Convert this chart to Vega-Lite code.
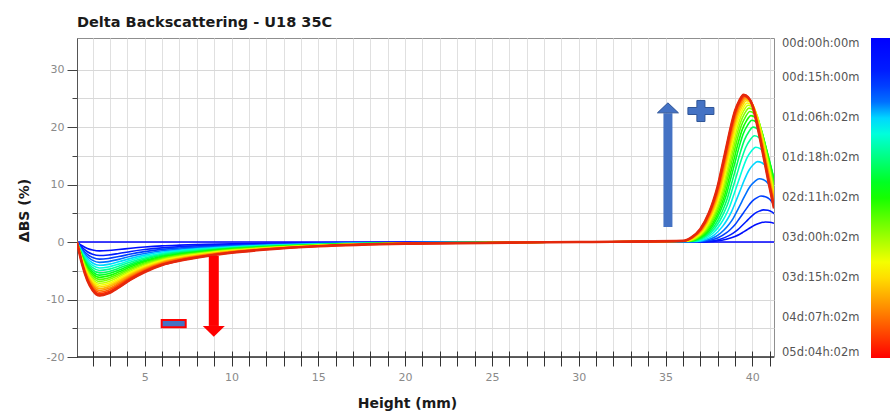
{
"$schema":"https://vega.github.io/schema/vega-lite/v6.json",
"width":697,"height":319,
"autosize":{"type":"none"},
"padding":{"left":77,"top":38,"right":116,"bottom":54},
"background":"white",
"title":{"text":"Delta Backscattering - U18 35C","anchor":"start","frame":"group","fontSize":14.5,"fontWeight":"bold","font":"DejaVu Sans","color":"#1a1a1a","offset":8},
"config":{"view":{"stroke":"#8f8f8f","strokeWidth":1},"font":"DejaVu Sans"},
"datasets":{"curves":[
{"k":0,"h":1.1,"v":0},{"k":0,"h":41.25,"v":0},
{"k":1,"h":1.1,"v":0},{"k":1,"h":1.4,"v":-0.65},{"k":1,"h":1.7,"v":-1.11},{"k":1,"h":2,"v":-1.39},{"k":1,"h":2.4,"v":-1.54},{"k":1,"h":2.9,"v":-1.48},{"k":1,"h":3.5,"v":-1.31},{"k":1,"h":4.2,"v":-1.08},{"k":1,"h":5,"v":-0.86},{"k":1,"h":6,"v":-0.66},{"k":1,"h":7,"v":-0.54},{"k":1,"h":8.5,"v":-0.41},{"k":1,"h":10,"v":-0.31},{"k":1,"h":12,"v":-0.22},{"k":1,"h":15,"v":-0.12},{"k":1,"h":20,"v":-0.05},{"k":1,"h":30,"v":0},
{"k":1,"h":37.25,"v":0.03},{"k":1,"h":37.75,"v":0.11},{"k":1,"h":38.25,"v":0.3},{"k":1,"h":38.75,"v":0.69},{"k":1,"h":39,"v":0.97},{"k":1,"h":39.25,"v":1.31},{"k":1,"h":39.5,"v":1.77},{"k":1,"h":39.75,"v":2.24},{"k":1,"h":40,"v":2.71},{"k":1,"h":40.25,"v":3.11},{"k":1,"h":40.5,"v":3.36},{"k":1,"h":40.75,"v":3.5},{"k":1,"h":41,"v":3.45},{"k":1,"h":41.25,"v":3.26},
{"k":2,"h":1.1,"v":0},{"k":2,"h":1.4,"v":-0.98},{"k":2,"h":1.7,"v":-1.68},{"k":2,"h":2,"v":-2.11},{"k":2,"h":2.4,"v":-2.34},{"k":2,"h":2.9,"v":-2.25},{"k":2,"h":3.5,"v":-1.99},{"k":2,"h":4.2,"v":-1.64},{"k":2,"h":5,"v":-1.31},{"k":2,"h":6,"v":-1.01},{"k":2,"h":7,"v":-0.82},{"k":2,"h":8.5,"v":-0.62},{"k":2,"h":10,"v":-0.47},{"k":2,"h":12,"v":-0.33},{"k":2,"h":15,"v":-0.19},{"k":2,"h":20,"v":-0.07},{"k":2,"h":30,"v":0},
{"k":2,"h":37.15,"v":0.04},{"k":2,"h":37.65,"v":0.18},{"k":2,"h":38.15,"v":0.49},{"k":2,"h":38.65,"v":1.11},{"k":2,"h":38.9,"v":1.55},{"k":2,"h":39.15,"v":2.1},{"k":2,"h":39.4,"v":2.83},{"k":2,"h":39.65,"v":3.58},{"k":2,"h":39.9,"v":4.34},{"k":2,"h":40.15,"v":4.98},{"k":2,"h":40.4,"v":5.38},{"k":2,"h":40.65,"v":5.6},{"k":2,"h":40.9,"v":5.52},{"k":2,"h":41.15,"v":5.21},{"k":2,"h":41.4,"v":4.54},
{"k":3,"h":1.1,"v":0},{"k":3,"h":1.4,"v":-1.25},{"k":3,"h":1.7,"v":-2.15},{"k":3,"h":2,"v":-2.68},{"k":3,"h":2.4,"v":-2.98},{"k":3,"h":2.9,"v":-2.86},{"k":3,"h":3.5,"v":-2.53},{"k":3,"h":4.2,"v":-2.09},{"k":3,"h":5,"v":-1.67},{"k":3,"h":6,"v":-1.28},{"k":3,"h":7,"v":-1.04},{"k":3,"h":8.5,"v":-0.79},{"k":3,"h":10,"v":-0.6},{"k":3,"h":12,"v":-0.42},{"k":3,"h":15,"v":-0.24},{"k":3,"h":20,"v":-0.09},{"k":3,"h":30,"v":0},
{"k":3,"h":37,"v":0.06},{"k":3,"h":37.5,"v":0.26},{"k":3,"h":38,"v":0.7},{"k":3,"h":38.5,"v":1.58},{"k":3,"h":38.75,"v":2.22},{"k":3,"h":39,"v":3},{"k":3,"h":39.25,"v":4.05},{"k":3,"h":39.5,"v":5.12},{"k":3,"h":39.75,"v":6.2},{"k":3,"h":40,"v":7.11},{"k":3,"h":40.25,"v":7.68},{"k":3,"h":40.5,"v":8},{"k":3,"h":40.75,"v":7.88},{"k":3,"h":41,"v":7.44},{"k":3,"h":41.25,"v":6.48},
{"k":4,"h":1.1,"v":0},{"k":4,"h":1.4,"v":-1.49},{"k":4,"h":1.7,"v":-2.55},{"k":4,"h":2,"v":-3.19},{"k":4,"h":2.4,"v":-3.54},{"k":4,"h":2.9,"v":-3.4},{"k":4,"h":3.5,"v":-3.01},{"k":4,"h":4.2,"v":-2.48},{"k":4,"h":5,"v":-1.98},{"k":4,"h":6,"v":-1.52},{"k":4,"h":7,"v":-1.24},{"k":4,"h":8.5,"v":-0.94},{"k":4,"h":10,"v":-0.71},{"k":4,"h":12,"v":-0.5},{"k":4,"h":15,"v":-0.28},{"k":4,"h":20,"v":-0.11},{"k":4,"h":30,"v":0},
{"k":4,"h":36.9,"v":0.09},{"k":4,"h":37.4,"v":0.35},{"k":4,"h":37.9,"v":0.96},{"k":4,"h":38.4,"v":2.18},{"k":4,"h":38.65,"v":3.05},{"k":4,"h":38.9,"v":4.13},{"k":4,"h":39.15,"v":5.57},{"k":4,"h":39.4,"v":7.04},{"k":4,"h":39.65,"v":8.53},{"k":4,"h":39.9,"v":9.78},{"k":4,"h":40.15,"v":10.56},{"k":4,"h":40.4,"v":11},{"k":4,"h":40.65,"v":10.84},{"k":4,"h":40.9,"v":10.23},{"k":4,"h":41.15,"v":8.91},{"k":4,"h":41.4,"v":7.37},
{"k":5,"h":1.1,"v":0},{"k":5,"h":1.4,"v":-1.7},{"k":5,"h":1.7,"v":-2.92},{"k":5,"h":2,"v":-3.65},{"k":5,"h":2.4,"v":-4.05},{"k":5,"h":2.9,"v":-3.89},{"k":5,"h":3.5,"v":-3.44},{"k":5,"h":4.2,"v":-2.84},{"k":5,"h":5,"v":-2.27},{"k":5,"h":6,"v":-1.74},{"k":5,"h":7,"v":-1.42},{"k":5,"h":8.5,"v":-1.07},{"k":5,"h":10,"v":-0.81},{"k":5,"h":12,"v":-0.57},{"k":5,"h":15,"v":-0.32},{"k":5,"h":20,"v":-0.12},{"k":5,"h":30,"v":0},
{"k":5,"h":36.8,"v":0.11},{"k":5,"h":37.3,"v":0.45},{"k":5,"h":37.8,"v":1.22},{"k":5,"h":38.3,"v":2.77},{"k":5,"h":38.55,"v":3.88},{"k":5,"h":38.8,"v":5.25},{"k":5,"h":39.05,"v":7.08},{"k":5,"h":39.3,"v":8.96},{"k":5,"h":39.55,"v":10.85},{"k":5,"h":39.8,"v":12.45},{"k":5,"h":40.05,"v":13.44},{"k":5,"h":40.3,"v":14},{"k":5,"h":40.55,"v":13.79},{"k":5,"h":40.8,"v":13.02},{"k":5,"h":41.05,"v":11.34},{"k":5,"h":41.3,"v":9.38},
{"k":6,"h":1.1,"v":0},{"k":6,"h":1.4,"v":-1.9},{"k":6,"h":1.7,"v":-3.25},{"k":6,"h":2,"v":-4.07},{"k":6,"h":2.4,"v":-4.52},{"k":6,"h":2.9,"v":-4.34},{"k":6,"h":3.5,"v":-3.84},{"k":6,"h":4.2,"v":-3.16},{"k":6,"h":5,"v":-2.53},{"k":6,"h":6,"v":-1.94},{"k":6,"h":7,"v":-1.58},{"k":6,"h":8.5,"v":-1.2},{"k":6,"h":10,"v":-0.9},{"k":6,"h":12,"v":-0.63},{"k":6,"h":15,"v":-0.36},{"k":6,"h":20,"v":-0.14},{"k":6,"h":30,"v":0},
{"k":6,"h":36.7,"v":0.13},{"k":6,"h":37.2,"v":0.53},{"k":6,"h":37.7,"v":1.44},{"k":6,"h":38.2,"v":3.27},{"k":6,"h":38.45,"v":4.57},{"k":6,"h":38.7,"v":6.19},{"k":6,"h":38.95,"v":8.35},{"k":6,"h":39.2,"v":10.56},{"k":6,"h":39.45,"v":12.79},{"k":6,"h":39.7,"v":14.67},{"k":6,"h":39.95,"v":15.84},{"k":6,"h":40.2,"v":16.5},{"k":6,"h":40.45,"v":16.25},{"k":6,"h":40.7,"v":15.35},{"k":6,"h":40.95,"v":13.37},{"k":6,"h":41.2,"v":11.06},{"k":6,"h":41.45,"v":8.58},
{"k":7,"h":1.1,"v":0},{"k":7,"h":1.4,"v":-2.08},{"k":7,"h":1.7,"v":-3.56},{"k":7,"h":2,"v":-4.46},{"k":7,"h":2.4,"v":-4.95},{"k":7,"h":2.9,"v":-4.75},{"k":7,"h":3.5,"v":-4.21},{"k":7,"h":4.2,"v":-3.47},{"k":7,"h":5,"v":-2.77},{"k":7,"h":6,"v":-2.13},{"k":7,"h":7,"v":-1.73},{"k":7,"h":8.5,"v":-1.31},{"k":7,"h":10,"v":-0.99},{"k":7,"h":12,"v":-0.69},{"k":7,"h":15,"v":-0.4},{"k":7,"h":20,"v":-0.15},{"k":7,"h":30,"v":0},
{"k":7,"h":36.62,"v":0.15},{"k":7,"h":37.12,"v":0.59},{"k":7,"h":37.62,"v":1.61},{"k":7,"h":38.12,"v":3.66},{"k":7,"h":38.37,"v":5.12},{"k":7,"h":38.62,"v":6.94},{"k":7,"h":38.87,"v":9.36},{"k":7,"h":39.12,"v":11.84},{"k":7,"h":39.37,"v":14.34},{"k":7,"h":39.62,"v":16.45},{"k":7,"h":39.87,"v":17.76},{"k":7,"h":40.12,"v":18.5},{"k":7,"h":40.37,"v":18.22},{"k":7,"h":40.62,"v":17.21},{"k":7,"h":40.87,"v":14.99},{"k":7,"h":41.12,"v":12.4},{"k":7,"h":41.37,"v":9.62},
{"k":8,"h":1.1,"v":0},{"k":8,"h":1.4,"v":-2.26},{"k":8,"h":1.7,"v":-3.87},{"k":8,"h":2,"v":-4.83},{"k":8,"h":2.4,"v":-5.37},{"k":8,"h":2.9,"v":-5.16},{"k":8,"h":3.5,"v":-4.56},{"k":8,"h":4.2,"v":-3.76},{"k":8,"h":5,"v":-3.01},{"k":8,"h":6,"v":-2.31},{"k":8,"h":7,"v":-1.88},{"k":8,"h":8.5,"v":-1.42},{"k":8,"h":10,"v":-1.07},{"k":8,"h":12,"v":-0.75},{"k":8,"h":15,"v":-0.43},{"k":8,"h":20,"v":-0.16},{"k":8,"h":30,"v":0},
{"k":8,"h":36.55,"v":0.16},{"k":8,"h":37.05,"v":0.64},{"k":8,"h":37.55,"v":1.74},{"k":8,"h":38.05,"v":3.96},{"k":8,"h":38.3,"v":5.54},{"k":8,"h":38.55,"v":7.5},{"k":8,"h":38.8,"v":10.12},{"k":8,"h":39.05,"v":12.8},{"k":8,"h":39.3,"v":15.5},{"k":8,"h":39.55,"v":17.78},{"k":8,"h":39.8,"v":19.2},{"k":8,"h":40.05,"v":20},{"k":8,"h":40.3,"v":19.7},{"k":8,"h":40.55,"v":18.6},{"k":8,"h":40.8,"v":16.2},{"k":8,"h":41.05,"v":13.4},{"k":8,"h":41.3,"v":10.4},
{"k":9,"h":1.1,"v":0},{"k":9,"h":1.4,"v":-2.42},{"k":9,"h":1.7,"v":-4.15},{"k":9,"h":2,"v":-5.18},{"k":9,"h":2.4,"v":-5.76},{"k":9,"h":2.9,"v":-5.53},{"k":9,"h":3.5,"v":-4.9},{"k":9,"h":4.2,"v":-4.03},{"k":9,"h":5,"v":-3.23},{"k":9,"h":6,"v":-2.48},{"k":9,"h":7,"v":-2.02},{"k":9,"h":8.5,"v":-1.53},{"k":9,"h":10,"v":-1.15},{"k":9,"h":12,"v":-0.81},{"k":9,"h":15,"v":-0.46},{"k":9,"h":20,"v":-0.17},{"k":9,"h":30,"v":0},
{"k":9,"h":36.48,"v":0.17},{"k":9,"h":36.98,"v":0.68},{"k":9,"h":37.48,"v":1.84},{"k":9,"h":37.98,"v":4.2},{"k":9,"h":38.23,"v":5.87},{"k":9,"h":38.48,"v":7.95},{"k":9,"h":38.73,"v":10.73},{"k":9,"h":38.98,"v":13.57},{"k":9,"h":39.23,"v":16.43},{"k":9,"h":39.48,"v":18.85},{"k":9,"h":39.73,"v":20.35},{"k":9,"h":39.98,"v":21.2},{"k":9,"h":40.23,"v":20.88},{"k":9,"h":40.48,"v":19.72},{"k":9,"h":40.73,"v":17.17},{"k":9,"h":40.98,"v":14.2},{"k":9,"h":41.23,"v":11.02},{"k":9,"h":41.48,"v":7.84},
{"k":10,"h":1.1,"v":0},{"k":10,"h":1.4,"v":-2.58},{"k":10,"h":1.7,"v":-4.42},{"k":10,"h":2,"v":-5.53},{"k":10,"h":2.4,"v":-6.14},{"k":10,"h":2.9,"v":-5.89},{"k":10,"h":3.5,"v":-5.22},{"k":10,"h":4.2,"v":-4.3},{"k":10,"h":5,"v":-3.44},{"k":10,"h":6,"v":-2.64},{"k":10,"h":7,"v":-2.15},{"k":10,"h":8.5,"v":-1.63},{"k":10,"h":10,"v":-1.23},{"k":10,"h":12,"v":-0.86},{"k":10,"h":15,"v":-0.49},{"k":10,"h":20,"v":-0.18},{"k":10,"h":30,"v":0},
{"k":10,"h":36.42,"v":0.18},{"k":10,"h":36.92,"v":0.7},{"k":10,"h":37.42,"v":1.91},{"k":10,"h":37.92,"v":4.36},{"k":10,"h":38.17,"v":6.09},{"k":10,"h":38.42,"v":8.25},{"k":10,"h":38.67,"v":11.13},{"k":10,"h":38.92,"v":14.08},{"k":10,"h":39.17,"v":17.05},{"k":10,"h":39.42,"v":19.56},{"k":10,"h":39.67,"v":21.12},{"k":10,"h":39.92,"v":22},{"k":10,"h":40.17,"v":21.67},{"k":10,"h":40.42,"v":20.46},{"k":10,"h":40.67,"v":17.82},{"k":10,"h":40.92,"v":14.74},{"k":10,"h":41.17,"v":11.44},{"k":10,"h":41.42,"v":8.14},
{"k":11,"h":1.1,"v":0},{"k":11,"h":1.4,"v":-2.73},{"k":11,"h":1.7,"v":-4.68},{"k":11,"h":2,"v":-5.85},{"k":11,"h":2.4,"v":-6.5},{"k":11,"h":2.9,"v":-6.24},{"k":11,"h":3.5,"v":-5.53},{"k":11,"h":4.2,"v":-4.55},{"k":11,"h":5,"v":-3.64},{"k":11,"h":6,"v":-2.8},{"k":11,"h":7,"v":-2.28},{"k":11,"h":8.5,"v":-1.72},{"k":11,"h":10,"v":-1.3},{"k":11,"h":12,"v":-0.91},{"k":11,"h":15,"v":-0.52},{"k":11,"h":20,"v":-0.2},{"k":11,"h":30,"v":0},
{"k":11,"h":36.36,"v":0.18},{"k":11,"h":36.86,"v":0.73},{"k":11,"h":37.36,"v":1.97},{"k":11,"h":37.86,"v":4.49},{"k":11,"h":38.11,"v":6.29},{"k":11,"h":38.36,"v":8.51},{"k":11,"h":38.61,"v":11.49},{"k":11,"h":38.86,"v":14.53},{"k":11,"h":39.11,"v":17.59},{"k":11,"h":39.36,"v":20.18},{"k":11,"h":39.61,"v":21.79},{"k":11,"h":39.86,"v":22.7},{"k":11,"h":40.11,"v":22.36},{"k":11,"h":40.36,"v":21.11},{"k":11,"h":40.61,"v":18.39},{"k":11,"h":40.86,"v":15.21},{"k":11,"h":41.11,"v":11.8},{"k":11,"h":41.36,"v":8.4},
{"k":12,"h":1.1,"v":0},{"k":12,"h":1.4,"v":-2.87},{"k":12,"h":1.7,"v":-4.92},{"k":12,"h":2,"v":-6.16},{"k":12,"h":2.4,"v":-6.84},{"k":12,"h":2.9,"v":-6.57},{"k":12,"h":3.5,"v":-5.81},{"k":12,"h":4.2,"v":-4.79},{"k":12,"h":5,"v":-3.83},{"k":12,"h":6,"v":-2.94},{"k":12,"h":7,"v":-2.39},{"k":12,"h":8.5,"v":-1.81},{"k":12,"h":10,"v":-1.37},{"k":12,"h":12,"v":-0.96},{"k":12,"h":15,"v":-0.55},{"k":12,"h":20,"v":-0.21},{"k":12,"h":30,"v":0},
{"k":12,"h":36.31,"v":0.19},{"k":12,"h":36.81,"v":0.75},{"k":12,"h":37.31,"v":2.03},{"k":12,"h":37.81,"v":4.61},{"k":12,"h":38.06,"v":6.45},{"k":12,"h":38.31,"v":8.74},{"k":12,"h":38.56,"v":11.79},{"k":12,"h":38.81,"v":14.91},{"k":12,"h":39.06,"v":18.06},{"k":12,"h":39.31,"v":20.71},{"k":12,"h":39.56,"v":22.37},{"k":12,"h":39.81,"v":23.3},{"k":12,"h":40.06,"v":22.95},{"k":12,"h":40.31,"v":21.67},{"k":12,"h":40.56,"v":18.87},{"k":12,"h":40.81,"v":15.61},{"k":12,"h":41.06,"v":12.12},{"k":12,"h":41.31,"v":8.62},
{"k":13,"h":1.1,"v":0},{"k":13,"h":1.4,"v":-3.02},{"k":13,"h":1.7,"v":-5.17},{"k":13,"h":2,"v":-6.46},{"k":13,"h":2.4,"v":-7.18},{"k":13,"h":2.9,"v":-6.89},{"k":13,"h":3.5,"v":-6.1},{"k":13,"h":4.2,"v":-5.03},{"k":13,"h":5,"v":-4.02},{"k":13,"h":6,"v":-3.09},{"k":13,"h":7,"v":-2.51},{"k":13,"h":8.5,"v":-1.9},{"k":13,"h":10,"v":-1.44},{"k":13,"h":12,"v":-1.01},{"k":13,"h":15,"v":-0.57},{"k":13,"h":20,"v":-0.22},{"k":13,"h":30,"v":0},
{"k":13,"h":36.26,"v":0.19},{"k":13,"h":36.76,"v":0.76},{"k":13,"h":37.26,"v":2.07},{"k":13,"h":37.76,"v":4.71},{"k":13,"h":38.01,"v":6.59},{"k":13,"h":38.26,"v":8.93},{"k":13,"h":38.51,"v":12.04},{"k":13,"h":38.76,"v":15.23},{"k":13,"h":39.01,"v":18.45},{"k":13,"h":39.26,"v":21.16},{"k":13,"h":39.51,"v":22.85},{"k":13,"h":39.76,"v":23.8},{"k":13,"h":40.01,"v":23.44},{"k":13,"h":40.26,"v":22.13},{"k":13,"h":40.51,"v":19.28},{"k":13,"h":40.76,"v":15.95},{"k":13,"h":41.01,"v":12.38},{"k":13,"h":41.26,"v":8.81},
{"k":14,"h":1.1,"v":0},{"k":14,"h":1.4,"v":-3.15},{"k":14,"h":1.7,"v":-5.41},{"k":14,"h":2,"v":-6.76},{"k":14,"h":2.4,"v":-7.51},{"k":14,"h":2.9,"v":-7.21},{"k":14,"h":3.5,"v":-6.38},{"k":14,"h":4.2,"v":-5.26},{"k":14,"h":5,"v":-4.21},{"k":14,"h":6,"v":-3.23},{"k":14,"h":7,"v":-2.63},{"k":14,"h":8.5,"v":-1.99},{"k":14,"h":10,"v":-1.5},{"k":14,"h":12,"v":-1.05},{"k":14,"h":15,"v":-0.6},{"k":14,"h":20,"v":-0.23},{"k":14,"h":30,"v":0},
{"k":14,"h":36.21,"v":0.19},{"k":14,"h":36.71,"v":0.77},{"k":14,"h":37.21,"v":2.11},{"k":14,"h":37.71,"v":4.79},{"k":14,"h":37.96,"v":6.7},{"k":14,"h":38.21,"v":9.08},{"k":14,"h":38.46,"v":12.25},{"k":14,"h":38.71,"v":15.49},{"k":14,"h":38.96,"v":18.76},{"k":14,"h":39.21,"v":21.51},{"k":14,"h":39.46,"v":23.23},{"k":14,"h":39.71,"v":24.2},{"k":14,"h":39.96,"v":23.84},{"k":14,"h":40.21,"v":22.51},{"k":14,"h":40.46,"v":19.6},{"k":14,"h":40.71,"v":16.21},{"k":14,"h":40.96,"v":12.58},{"k":14,"h":41.21,"v":8.95},{"k":14,"h":41.46,"v":5.57},
{"k":15,"h":1.1,"v":0},{"k":15,"h":1.4,"v":-3.29},{"k":15,"h":1.7,"v":-5.64},{"k":15,"h":2,"v":-7.05},{"k":15,"h":2.4,"v":-7.83},{"k":15,"h":2.9,"v":-7.52},{"k":15,"h":3.5,"v":-6.66},{"k":15,"h":4.2,"v":-5.48},{"k":15,"h":5,"v":-4.38},{"k":15,"h":6,"v":-3.37},{"k":15,"h":7,"v":-2.74},{"k":15,"h":8.5,"v":-2.07},{"k":15,"h":10,"v":-1.57},{"k":15,"h":12,"v":-1.1},{"k":15,"h":15,"v":-0.63},{"k":15,"h":20,"v":-0.23},{"k":15,"h":30,"v":0},
{"k":15,"h":36.17,"v":0.2},{"k":15,"h":36.67,"v":0.79},{"k":15,"h":37.17,"v":2.14},{"k":15,"h":37.67,"v":4.87},{"k":15,"h":37.92,"v":6.81},{"k":15,"h":38.17,"v":9.23},{"k":15,"h":38.42,"v":12.45},{"k":15,"h":38.67,"v":15.74},{"k":15,"h":38.92,"v":19.07},{"k":15,"h":39.17,"v":21.87},{"k":15,"h":39.42,"v":23.62},{"k":15,"h":39.67,"v":24.6},{"k":15,"h":39.92,"v":24.23},{"k":15,"h":40.17,"v":22.88},{"k":15,"h":40.42,"v":19.93},{"k":15,"h":40.67,"v":16.48},{"k":15,"h":40.92,"v":12.79},{"k":15,"h":41.17,"v":9.1},{"k":15,"h":41.42,"v":5.66},
{"k":16,"h":1.1,"v":0},{"k":16,"h":1.4,"v":-3.41},{"k":16,"h":1.7,"v":-5.85},{"k":16,"h":2,"v":-7.32},{"k":16,"h":2.4,"v":-8.13},{"k":16,"h":2.9,"v":-7.8},{"k":16,"h":3.5,"v":-6.91},{"k":16,"h":4.2,"v":-5.69},{"k":16,"h":5,"v":-4.55},{"k":16,"h":6,"v":-3.5},{"k":16,"h":7,"v":-2.85},{"k":16,"h":8.5,"v":-2.15},{"k":16,"h":10,"v":-1.63},{"k":16,"h":12,"v":-1.14},{"k":16,"h":15,"v":-0.65},{"k":16,"h":20,"v":-0.24},{"k":16,"h":30,"v":0},
{"k":16,"h":36.13,"v":0.2},{"k":16,"h":36.63,"v":0.8},{"k":16,"h":37.13,"v":2.17},{"k":16,"h":37.63,"v":4.93},{"k":16,"h":37.88,"v":6.9},{"k":16,"h":38.13,"v":9.34},{"k":16,"h":38.38,"v":12.6},{"k":16,"h":38.63,"v":15.94},{"k":16,"h":38.88,"v":19.3},{"k":16,"h":39.13,"v":22.14},{"k":16,"h":39.38,"v":23.9},{"k":16,"h":39.63,"v":24.9},{"k":16,"h":39.88,"v":24.53},{"k":16,"h":40.13,"v":23.16},{"k":16,"h":40.38,"v":20.17},{"k":16,"h":40.63,"v":16.68},{"k":16,"h":40.88,"v":12.95},{"k":16,"h":41.13,"v":9.21},{"k":16,"h":41.38,"v":5.73},
{"k":17,"h":1.1,"v":0},{"k":17,"h":1.4,"v":-3.54},{"k":17,"h":1.7,"v":-6.08},{"k":17,"h":2,"v":-7.6},{"k":17,"h":2.4,"v":-8.44},{"k":17,"h":2.9,"v":-8.1},{"k":17,"h":3.5,"v":-7.17},{"k":17,"h":4.2,"v":-5.91},{"k":17,"h":5,"v":-4.73},{"k":17,"h":6,"v":-3.63},{"k":17,"h":7,"v":-2.95},{"k":17,"h":8.5,"v":-2.24},{"k":17,"h":10,"v":-1.69},{"k":17,"h":12,"v":-1.18},{"k":17,"h":15,"v":-0.68},{"k":17,"h":20,"v":-0.25},{"k":17,"h":30,"v":0},
{"k":17,"h":36.09,"v":0.2},{"k":17,"h":36.59,"v":0.8},{"k":17,"h":37.09,"v":2.18},{"k":17,"h":37.59,"v":4.97},{"k":17,"h":37.84,"v":6.95},{"k":17,"h":38.09,"v":9.41},{"k":17,"h":38.34,"v":12.7},{"k":17,"h":38.59,"v":16.06},{"k":17,"h":38.84,"v":19.45},{"k":17,"h":39.09,"v":22.31},{"k":17,"h":39.34,"v":24.1},{"k":17,"h":39.59,"v":25.1},{"k":17,"h":39.84,"v":24.72},{"k":17,"h":40.09,"v":23.34},{"k":17,"h":40.34,"v":20.33},{"k":17,"h":40.59,"v":16.82},{"k":17,"h":40.84,"v":13.05},{"k":17,"h":41.09,"v":9.29},{"k":17,"h":41.34,"v":5.77},
{"k":18,"h":1.1,"v":0},{"k":18,"h":1.4,"v":-3.67},{"k":18,"h":1.7,"v":-6.29},{"k":18,"h":2,"v":-7.86},{"k":18,"h":2.4,"v":-8.73},{"k":18,"h":2.9,"v":-8.38},{"k":18,"h":3.5,"v":-7.42},{"k":18,"h":4.2,"v":-6.11},{"k":18,"h":5,"v":-4.89},{"k":18,"h":6,"v":-3.75},{"k":18,"h":7,"v":-3.06},{"k":18,"h":8.5,"v":-2.31},{"k":18,"h":10,"v":-1.75},{"k":18,"h":12,"v":-1.22},{"k":18,"h":15,"v":-0.7},{"k":18,"h":20,"v":-0.26},{"k":18,"h":30,"v":0},
{"k":18,"h":36.06,"v":0.2},{"k":18,"h":36.56,"v":0.81},{"k":18,"h":37.06,"v":2.2},{"k":18,"h":37.56,"v":5.01},{"k":18,"h":37.81,"v":7.01},{"k":18,"h":38.06,"v":9.49},{"k":18,"h":38.31,"v":12.8},{"k":18,"h":38.56,"v":16.19},{"k":18,"h":38.81,"v":19.61},{"k":18,"h":39.06,"v":22.49},{"k":18,"h":39.31,"v":24.29},{"k":18,"h":39.56,"v":25.3},{"k":18,"h":39.81,"v":24.92},{"k":18,"h":40.06,"v":23.53},{"k":18,"h":40.31,"v":20.49},{"k":18,"h":40.56,"v":16.95},{"k":18,"h":40.81,"v":13.16},{"k":18,"h":41.06,"v":9.36},{"k":18,"h":41.31,"v":5.82},
{"k":19,"h":1.1,"v":0},{"k":19,"h":1.4,"v":-3.79},{"k":19,"h":1.7,"v":-6.49},{"k":19,"h":2,"v":-8.12},{"k":19,"h":2.4,"v":-9.02},{"k":19,"h":2.9,"v":-8.66},{"k":19,"h":3.5,"v":-7.67},{"k":19,"h":4.2,"v":-6.31},{"k":19,"h":5,"v":-5.05},{"k":19,"h":6,"v":-3.88},{"k":19,"h":7,"v":-3.16},{"k":19,"h":8.5,"v":-2.39},{"k":19,"h":10,"v":-1.8},{"k":19,"h":12,"v":-1.26},{"k":19,"h":15,"v":-0.72},{"k":19,"h":20,"v":-0.27},{"k":19,"h":30,"v":0},
{"k":19,"h":36.03,"v":0.2},{"k":19,"h":36.53,"v":0.81},{"k":19,"h":37.03,"v":2.21},{"k":19,"h":37.53,"v":5.04},{"k":19,"h":37.78,"v":7.05},{"k":19,"h":38.03,"v":9.54},{"k":19,"h":38.28,"v":12.88},{"k":19,"h":38.53,"v":16.29},{"k":19,"h":38.78,"v":19.72},{"k":19,"h":39.03,"v":22.63},{"k":19,"h":39.28,"v":24.43},{"k":19,"h":39.53,"v":25.45},{"k":19,"h":39.78,"v":25.07},{"k":19,"h":40.03,"v":23.67},{"k":19,"h":40.28,"v":20.61},{"k":19,"h":40.53,"v":17.05},{"k":19,"h":40.78,"v":13.23},{"k":19,"h":41.03,"v":9.42},{"k":19,"h":41.28,"v":5.85},
{"k":20,"h":1.1,"v":0},{"k":20,"h":1.4,"v":-3.91},{"k":20,"h":1.7,"v":-6.7},{"k":20,"h":2,"v":-8.37},{"k":20,"h":2.4,"v":-9.3},{"k":20,"h":2.9,"v":-8.93},{"k":20,"h":3.5,"v":-7.91},{"k":20,"h":4.2,"v":-6.51},{"k":20,"h":5,"v":-5.21},{"k":20,"h":6,"v":-4},{"k":20,"h":7,"v":-3.26},{"k":20,"h":8.5,"v":-2.46},{"k":20,"h":10,"v":-1.86},{"k":20,"h":12,"v":-1.3},{"k":20,"h":15,"v":-0.74},{"k":20,"h":20,"v":-0.28},{"k":20,"h":30,"v":0},
{"k":20,"h":36,"v":0.2},{"k":20,"h":36.5,"v":0.82},{"k":20,"h":37,"v":2.23},{"k":20,"h":37.5,"v":5.07},{"k":20,"h":37.75,"v":7.09},{"k":20,"h":38,"v":9.6},{"k":20,"h":38.25,"v":12.95},{"k":20,"h":38.5,"v":16.38},{"k":20,"h":38.75,"v":19.84},{"k":20,"h":39,"v":22.76},{"k":20,"h":39.25,"v":24.58},{"k":20,"h":39.5,"v":25.6},{"k":20,"h":39.75,"v":25.22},{"k":20,"h":40,"v":23.81},{"k":20,"h":40.25,"v":20.74},{"k":20,"h":40.5,"v":17.15},{"k":20,"h":40.75,"v":13.31},{"k":20,"h":41,"v":9.47},{"k":20,"h":41.25,"v":5.89}
]},
"layer":[
{"data":{"name":"curves"},
 "mark":{"type":"line","interpolate":"monotone","strokeWidth":1.6,"clip":true},
 "encoding":{
  "x":{"field":"h","type":"quantitative","scale":{"domain":[1.1,41.25],"nice":false,"zero":false},
   "axis":{"title":"Height (mm)","values":[2,3,4,5,6,7,8,9,10,11,12,13,14,15,16,17,18,19,20,21,22,23,24,25,26,27,28,29,30,31,32,33,34,35,36,37,38,39,40,41],"tickCount":100,
    "labelExpr":"datum.value % 5 === 0 ? '' + datum.value : ''","offset":-6,"tickSize":15,"tickColor":"#333","tickWidth":1,"domain":false,
    "grid":true,"gridColor":"#e0e0e0","gridWidth":1,"labelColor":"#8a8a8a","labelFontSize":11,"labelFont":"DejaVu Sans","labelPadding":5,"labelOverlap":false,"labelFlush":false,
    "titleFont":"DejaVu Sans","titleFontSize":14,"titleFontWeight":"bold","titleColor":"#1a1a1a","titleX":330,"titleY":56,"titleBaseline":"alphabetic","titleAlign":"center"}},
  "y":{"field":"v","type":"quantitative","scale":{"domain":[-20,35.5],"nice":false,"zero":false},
   "axis":{"title":"ΔBS (%)","values":[-20,-15,-10,-5,0,5,10,15,20,25,30],"tickCount":100,
    "labelExpr":"datum.value % 10 === 0 ? '' + datum.value : ''",
    "tickSize":{"condition":{"test":"datum.value % 10 !== 0","value":5},"value":10},
    "tickColor":"#444","domainColor":"#555","domainWidth":1,"grid":true,"gridColor":"#d8d8d8","labelColor":"#8a8a8a","labelFontSize":11,"labelFont":"DejaVu Sans","labelPadding":3,"labelOverlap":false,"labelFlush":false,
    "titleFont":"DejaVu Sans","titleFontSize":14,"titleFontWeight":"bold","titleColor":"#1a1a1a","titleX":-53,"titleY":172,"titleAngle":-90,"titleAlign":"center","titleBaseline":"middle"}},
  "color":{"field":"k","type":"quantitative",
   "scale":{"domain":[20,16.8,14.2,9.6,5.4,4,2.4,0],"range":["#ff0000","#ff9000","#ffff00","#00ff00","#00ffff","#0070ff","#0022ff","#0000ff"],"interpolate":"rgb","nice":false,"zero":false},
   "legend":{"orient":"none","legendX":794,"legendY":0,"direction":"vertical","gradientLength":320,"gradientThickness":19,"gradientStrokeWidth":0,"title":null,
    "values":[0,2.5,5,7.5,10,12.5,15,17.5,20],
    "labelExpr":"['00d:00h:00m','00d:15h:00m','01d:06h:02m','01d:18h:02m','02d:11h:02m','03d:00h:02m','03d:15h:02m','04d:07h:02m','05d:04h:02m'][round(datum.value/2.5)]",
    "labelAlign":"left","labelOffset":-108,"labelFontSize":11.5,"labelColor":"#555","labelFont":"DejaVu Sans","labelOverlap":false}},
  "detail":{"field":"k"}
 }},
{"data":{"name":"curves"},"transform":[{"filter":"datum.k == 20"}],
 "mark":{"type":"line","interpolate":"monotone","strokeWidth":2.6,"color":"#e4280c","clip":true},
 "encoding":{"x":{"field":"h","type":"quantitative"},"y":{"field":"v","type":"quantitative"}}},
{"data":{"values":[{"v":-20}]},
 "mark":{"type":"rule","color":"#2b2b2b","strokeWidth":1.5},
 "encoding":{"y":{"field":"v","type":"quantitative"}}},
{"data":{"values":[{"h":35.14,"v":2.6,"v2":22.4}]},
 "mark":{"type":"rule","color":"#4472c4","strokeWidth":9},
 "encoding":{"x":{"field":"h","type":"quantitative"},"y":{"field":"v","type":"quantitative"},"y2":{"field":"v2"}}},
{"data":{"values":[{"h":35.14,"v":23.3}]},
 "mark":{"type":"point","shape":"M-1,0.45L1,0.45L0,-0.5Z","size":441,"filled":true,"fill":"#4472c4","stroke":"#2f5597","strokeWidth":1,"opacity":1},
 "encoding":{"x":{"field":"h","type":"quantitative"},"y":{"field":"v","type":"quantitative"}}},
{"data":{"values":[{"h":37.04,"v":22.8}]},
 "mark":{"type":"point","shape":"M-0.31,-0.81L0.31,-0.81L0.31,-0.27L1,-0.27L1,0.27L0.31,0.27L0.31,0.81L-0.31,0.81L-0.31,0.27L-1,0.27L-1,-0.27L-0.31,-0.27Z","size":676,"filled":true,"fill":"#4472c4","stroke":"#2f5597","strokeWidth":1,"opacity":1},
 "encoding":{"x":{"field":"h","type":"quantitative"},"y":{"field":"v","type":"quantitative"}}},
{"data":{"values":[{"h":8.98,"v":-2.43,"v2":-14.6}]},
 "mark":{"type":"rule","color":"#ff0000","strokeWidth":10},
 "encoding":{"x":{"field":"h","type":"quantitative"},"y":{"field":"v","type":"quantitative"},"y2":{"field":"v2"}}},
{"data":{"values":[{"h":8.98,"v":-15.53}]},
 "mark":{"type":"point","shape":"M-1,-0.48L1,-0.48L0,0.5Z","size":484,"filled":true,"fill":"#ff0000","strokeWidth":0,"opacity":1},
 "encoding":{"x":{"field":"h","type":"quantitative"},"y":{"field":"v","type":"quantitative"}}},
{"data":{"values":[{"h":6.67,"v":-14.2}]},
 "mark":{"type":"point","shape":"M-1,-0.3L1,-0.3L1,0.3L-1,0.3Z","size":576,"filled":true,"fill":"#4472c4","stroke":"#ff0000","strokeWidth":2,"opacity":1},
 "encoding":{"x":{"field":"h","type":"quantitative"},"y":{"field":"v","type":"quantitative"}}}
]
}
